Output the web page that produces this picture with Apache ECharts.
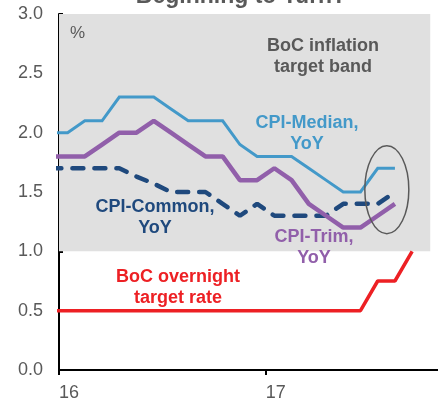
<!DOCTYPE html>
<html>
<head>
<meta charset="utf-8">
<script src="https://cdn.jsdelivr.net/npm/echarts@6/dist/echarts.min.js"></script>
<style>
  html, body { margin: 0; padding: 0; background: #fff; }
  #chart { width: 438px; height: 402px; }
</style>
</head>
<body>
<div id="chart"></div>
<script>
// months Dec 2015 .. Sep 2017 (plotted mid-month)
var months = ['2015-12', '2016-01', '2016-02', '2016-03', '2016-04', '2016-05', '2016-06',
  '2016-07', '2016-08', '2016-09', '2016-10', '2016-11', '2016-12', '2017-01', '2017-02',
  '2017-03', '2017-04', '2017-05', '2017-06', '2017-07', '2017-08', '2017-09'];

var cpiMedian = [2.0, 2.0, 2.1, 2.1, 2.3, 2.3, 2.3, 2.2, 2.1, 2.1, 2.1, 1.9, 1.8, 1.8, 1.8, 1.7, 1.6, 1.5, 1.5, 1.7, 1.7];
var cpiTrim = [1.8, 1.8, 1.8, 1.9, 2.0, 2.0, 2.1, 2.0, 1.9, 1.8, 1.8, 1.6, 1.6, 1.7, 1.6, 1.4, 1.3, 1.2, 1.2, 1.3, 1.4];
var cpiCommon = [1.7, 1.7, 1.7, 1.7, 1.7, 1.63, 1.57, 1.5, 1.5, 1.5, 1.4, 1.3, 1.4, 1.3, 1.3, 1.3, 1.3, 1.4, 1.4, 1.4, 1.5];
var bocRate = [0.5, 0.5, 0.5, 0.5, 0.5, 0.5, 0.5, 0.5, 0.5, 0.5, 0.5, 0.5, 0.5, 0.5, 0.5, 0.5, 0.5, 0.5, 0.5, 0.75, 0.75, 1.0];

var yearTicks = [0, 12];
var yearLabels = ['16', '17'];
var targetBand = [1, 3];

// month position: months since Jan 2016, mid-month
function monthPos(s) {
  var p = s.split('-');
  return (+p[0] - 2016) * 12 + (+p[1] - 1) + 0.5;
}
function pairs(vals) {
  return vals.map(function (v, i) { return [monthPos(months[i]), v]; });
}

var gray = '#595959';
var font = 'Liberation Sans, Arial, sans-serif';

var option = {
  animation: false,
  grid: { left: 59, right: 0, top: 14, bottom: 30 },
  xAxis: {
    type: 'value',
    min: 0,
    max: 22,
    interval: 12,
    splitLine: { show: false },
    axisLine: { lineStyle: { color: '#000', width: 2 } },
    axisTick: { customValues: yearTicks, length: 5, lineStyle: { color: '#000', width: 2 } },
    axisLabel: {
      customValues: yearTicks,
      align: 'left',
      margin: 14,
      color: gray,
      fontSize: 18,
      fontFamily: font,
      formatter: function (v) { return yearLabels[yearTicks.indexOf(v)] || ''; }
    }
  },
  yAxis: {
    type: 'value',
    min: 0,
    max: 3,
    interval: 0.5,
    splitLine: { show: false },
    axisLine: { show: true, lineStyle: { color: '#000', width: 2 } },
    axisTick: { show: true, inside: true, length: 4, lineStyle: { color: '#000', width: 2 } },
    axisLabel: {
      margin: 16,
      color: gray,
      fontSize: 18,
      fontFamily: font,
      formatter: function (v) { return v.toFixed(1); }
    }
  },
  series: [
    {
      name: 'band', type: 'line', data: [], silent: true,
      markArea: {
        silent: true,
        itemStyle: { color: '#E0E0E0' },
        data: [[{ xAxis: 0, yAxis: targetBand[0] }, { xAxis: 21.55, yAxis: targetBand[1] }]]
      }
    },
    {
      name: 'CPI-Median', type: 'line', symbol: 'none', data: pairs(cpiMedian),
      lineStyle: { color: '#4399C9', width: 3, join: 'miter' }
    },
    {
      name: 'CPI-Common', type: 'line', symbol: 'none', data: pairs(cpiCommon),
      lineStyle: { color: '#1F497D', width: 4.5, type: [11, 11], cap: 'round' }
    },
    {
      name: 'CPI-Trim', type: 'line', symbol: 'none', data: pairs(cpiTrim),
      lineStyle: { color: '#915FAA', width: 4.5 }
    },
    {
      name: 'BoC', type: 'line', symbol: 'none', data: pairs(bocRate),
      lineStyle: { color: '#ED2024', width: 3.5 }
    }
  ]
};

var chart = echarts.init(document.getElementById('chart'), null, { renderer: 'canvas' });
chart.setOption(option);

function txt(x, y, text, color, size, bold) {
  return {
    type: 'text', x: x, y: y, z: 100,
    style: {
      text: text, fill: color, font: (bold ? 'bold ' : '') + size + 'px ' + font,
      align: 'center', verticalAlign: 'middle', lineHeight: 21
    }
  };
}

var c = chart.convertToPixel({ gridIndex: 0 }, [19.03, 1.52]);
chart.setOption({
  graphic: [
    txt(241, -3, 'Beginning to Turn?', gray, 23, true),
    { type: 'text', x: 70, y: 33, z: 100, style: { text: '%', fill: gray, font: '17px ' + font, verticalAlign: 'middle' } },
    txt(323, 57, 'BoC inflation\ntarget band', gray, 18, true),
    txt(307, 134, 'CPI-Median,\nYoY', '#4399C9', 18, true),
    txt(155, 218, 'CPI-Common,\nYoY', '#1F497D', 18, true),
    txt(314, 248, 'CPI-Trim,\nYoY', '#915FAA', 18, true),
    txt(178, 288, 'BoC overnight\ntarget rate', '#ED2024', 18, true),
    {
      type: 'ellipse', z: 100,
      shape: { cx: c[0], cy: c[1], rx: 22, ry: 44 },
      style: { fill: null, stroke: '#595959', lineWidth: 1.5 }
    }
  ]
});
</script>
</body>
</html>
